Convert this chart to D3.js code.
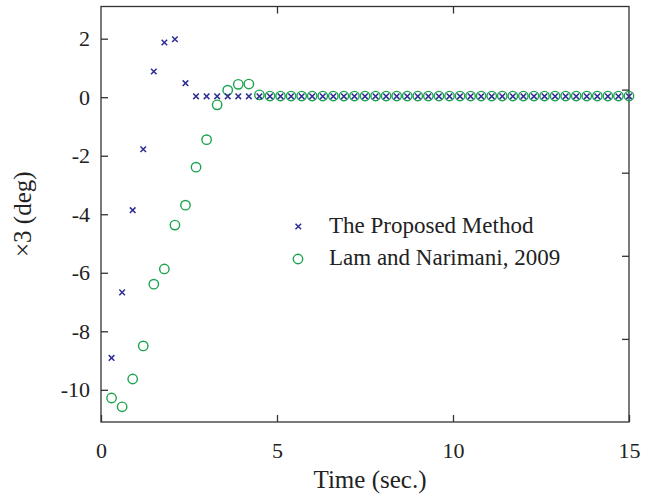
<!DOCTYPE html>
<html>
<head>
<meta charset="utf-8">
<script src="https://cdn.jsdelivr.net/npm/d3@7"></script>
<style>
  body { margin: 0; background: #fff; }
  text { font-family: "Liberation Serif", "Times New Roman", serif; fill: #222; }
</style>
</head>
<body>
<script>
// temps (s), pas de 0.3 s
const times = d3.range(1, 51).map(i => +(i * 0.3).toFixed(1))

// The Proposed Method
const proposed = [-8.91, -6.67, -3.86, -1.78, 0.88, 1.87, 1.98, 0.48, 0.03, 0.03,
  0.03, 0.03, 0.03, 0.03, 0.03, 0.03, 0.03, 0.03, 0.03, 0.03,
  0.03, 0.03, 0.03, 0.03, 0.03, 0.03, 0.03, 0.03, 0.03, 0.03,
  0.03, 0.03, 0.03, 0.03, 0.03, 0.03, 0.03, 0.03, 0.03, 0.03,
  0.03, 0.03, 0.03, 0.03, 0.03, 0.03, 0.03, 0.03, 0.03, 0.03]

// Lam and Narimani, 2009
const lam = [-10.28, -10.58, -9.63, -8.50, -6.39, -5.87, -4.37, -3.69, -2.39, -1.45,
  -0.26, 0.24, 0.44, 0.45, 0.08, 0.04, 0.04, 0.04, 0.04, 0.04,
  0.04, 0.04, 0.04, 0.04, 0.04, 0.04, 0.04, 0.04, 0.04, 0.04,
  0.04, 0.04, 0.04, 0.04, 0.04, 0.04, 0.04, 0.04, 0.04, 0.04,
  0.04, 0.04, 0.04, 0.04, 0.04, 0.04, 0.04, 0.04, 0.04, 0.04]

const xTicks = [0, 5, 10, 15]
const yTicks = [-10, -8, -6, -4, -2, 0, 2]
const legendLabels = ['The Proposed Method', 'Lam and Narimani, 2009']

const WIDTH = 654
const HEIGHT = 496
const mLeft = 101, mRight = 629, mTop = 6.5, mBottom = 422
const BLUE = '#2d2e93'
const GREEN = '#1aa34e'
const AXIS = '#333'

const svg = d3.select('body')
  .append('svg')
  .attr('width', WIDTH)
  .attr('height', HEIGHT)

const x = d3.scaleLinear().domain([0, 15]).range([mLeft, mRight])
const y = d3.scaleLinear().domain([-11.1, 3.1]).range([mBottom, mTop])
const yRight = d3.scaleLinear().domain([0, 1]).range([mBottom, mTop])

// axes, ticks vers l'intérieur
const bottomAxis = svg.append('g')
  .attr('transform', `translate(0,${mBottom})`)
  .call(d3.axisBottom(x).tickValues(xTicks).tickSizeInner(-7).tickSizeOuter(0).tickPadding(20))
bottomAxis.selectAll('text').attr('font-size', 22).attr('dy', '0.71em')

svg.append('g')
  .attr('transform', `translate(0,${mTop})`)
  .call(d3.axisTop(x).tickValues([5, 10]).tickSizeInner(-7).tickSizeOuter(0).tickFormat(''))

const leftAxis = svg.append('g')
  .attr('transform', `translate(${mLeft},0)`)
  .call(d3.axisLeft(y).tickValues(yTicks).tickSizeInner(-7).tickSizeOuter(0).tickPadding(11)
    .tickFormat(d => d < 0 ? '-' + Math.abs(d) : d))
leftAxis.selectAll('text').attr('font-size', 22)

svg.append('g')
  .attr('transform', `translate(${mRight},0)`)
  .call(d3.axisRight(yRight).tickValues([0.2, 0.4, 0.6, 0.8]).tickSizeInner(-7).tickSizeOuter(0).tickFormat(''))

svg.selectAll('.domain').remove()
svg.selectAll('.tick line').attr('stroke', AXIS).attr('stroke-width', 1.3)

svg.append('rect')
  .attr('x', mLeft)
  .attr('y', mTop)
  .attr('width', mRight - mLeft)
  .attr('height', mBottom - mTop)
  .attr('fill', 'none')
  .attr('stroke', AXIS)
  .attr('stroke-width', 1.3)

// marqueurs
const crossPath = (cx, cy, s) =>
  `M${cx - s},${cy - s}L${cx + s},${cy + s}M${cx - s},${cy + s}L${cx + s},${cy - s}`

svg.append('g')
  .selectAll('circle')
  .data(lam)
  .enter()
  .append('circle')
  .attr('cx', (d, i) => x(times[i]))
  .attr('cy', d => y(d))
  .attr('r', 4.7)
  .attr('fill', 'none')
  .attr('stroke', GREEN)
  .attr('stroke-width', 1.4)

svg.append('g')
  .selectAll('path')
  .data(proposed)
  .enter()
  .append('path')
  .attr('d', (d, i) => crossPath(x(times[i]), y(d), 2.8))
  .attr('stroke', BLUE)
  .attr('stroke-width', 1.5)

// légende
const legend = svg.append('g')
legend.append('path')
  .attr('d', crossPath(298.3, 226.5, 2.8))
  .attr('stroke', BLUE)
  .attr('stroke-width', 1.5)
legend.append('circle')
  .attr('cx', 298)
  .attr('cy', 259)
  .attr('r', 4.7)
  .attr('fill', 'none')
  .attr('stroke', GREEN)
  .attr('stroke-width', 1.4)
legend.selectAll('text')
  .data(legendLabels)
  .enter()
  .append('text')
  .attr('x', 329)
  .attr('y', (d, i) => 232.5 + i * 32.5)
  .attr('font-size', 23)
  .text(d => d)

// titres des axes
svg.append('text')
  .attr('x', 370)
  .attr('y', 488)
  .attr('text-anchor', 'middle')
  .attr('font-size', 25)
  .text('Time (sec.)')

svg.append('text')
  .attr('transform', `translate(31,${(mTop + mBottom) / 2}) rotate(-90)`)
  .attr('text-anchor', 'middle')
  .attr('font-size', 25)
  .text('×3 (deg)')
</script>
</body>
</html>
